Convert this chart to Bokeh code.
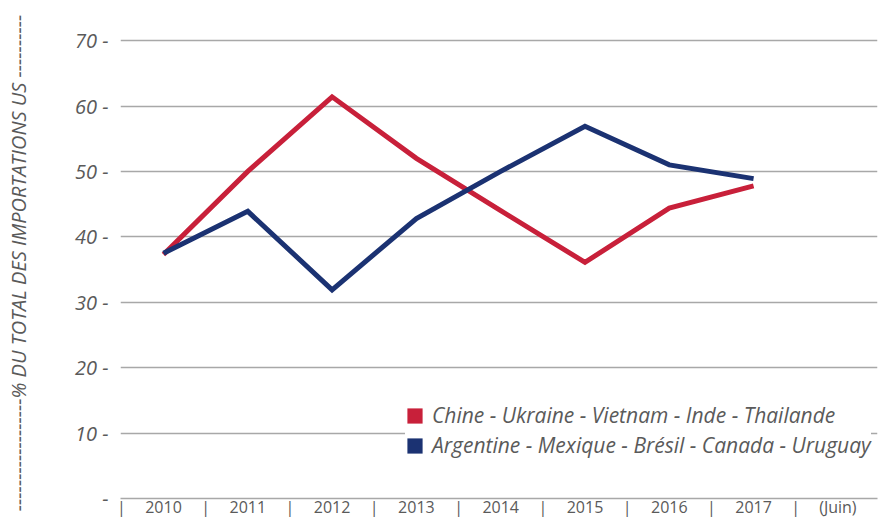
from bokeh.plotting import figure
from bokeh.models import FixedTicker, Legend, LegendItem, Range1d, ColumnDataSource
from bokeh.embed import file_html
from bokeh.resources import INLINE

years = ["2010", "2011", "2012", "2013", "2014", "2015", "2016", "2017"]
x_labels = years + ["(Juin)"]
asia = [37.3, 50.0, 61.4, 52.0, 44.0, 36.1, 44.4, 47.8]
americas = [37.5, 43.9, 31.9, 42.8, 50.0, 56.9, 51.0, 48.9]
y_ticks = [0, 10, 20, 30, 40, 50, 60, 70]
asia_label = "Chine - Ukraine - Vietnam - Inde - Thailande"
americas_label = "Argentine - Mexique - Brésil - Canada - Uruguay"
y_title = "% DU TOTAL DES IMPORTATIONS US"

RED = "#C8203A"
BLUE = "#1B3272"
GRID = "#A8A8A8"
TEXT = "#5A5A5A"
FONT = "Open Sans"

x_pos = list(range(len(years)))
centers = list(range(len(x_labels)))
bounds = [c - 0.5 for c in centers]

p = figure(width=882, height=520, output_backend="svg", toolbar_location=None,
           x_range=Range1d(-0.51, 8.47), y_range=Range1d(0, 72),
           min_border_left=120, min_border_right=5, min_border_top=27,
           min_border_bottom=19, background_fill_color="white",
           border_fill_color="white")
p.outline_line_color = None

src_a = ColumnDataSource(dict(x=x_pos, y=asia))
src_b = ColumnDataSource(dict(x=x_pos, y=americas))
p.line("x", "y", source=src_a, line_color=RED, line_width=5, line_join="miter")
p.line("x", "y", source=src_b, line_color=BLUE, line_width=5, line_join="miter")

# legend swatches: zero-size rects, only their legend entry is visible
sw_a = p.rect(x=x_pos[:1], y=asia[:1], width=0, height=0,
              fill_color=RED, line_color=None)
sw_b = p.rect(x=x_pos[:1], y=americas[:1], width=0, height=0,
              fill_color=BLUE, line_color=None)

# x axis
xa = p.xaxis[0]
xa.ticker = FixedTicker(ticks=sorted(centers + bounds), minor_ticks=[])
ov = {float(c): lab for c, lab in zip(centers, x_labels)}
ov.update({float(b): "|" for b in bounds})
xa.major_label_overrides = ov
xa.major_tick_line_color = None
xa.minor_tick_line_color = None
xa.major_tick_out = 0
xa.major_label_standoff = -3
xa.axis_line_color = GRID
xa.axis_line_width = 1.5
xa.major_label_text_font = FONT
xa.major_label_text_font_size = "16px"
xa.major_label_text_color = TEXT

# y axis
ya = p.yaxis[0]
ya.ticker = FixedTicker(ticks=y_ticks, minor_ticks=[])
ya.major_label_overrides = {float(v): (f"{v} -" if v else "-") for v in y_ticks}
ya.axis_line_color = None
ya.major_tick_line_color = None
ya.minor_tick_line_color = None
ya.major_tick_out = 0
ya.major_label_standoff = 12
ya.major_label_text_font = FONT
ya.major_label_text_font_style = "italic"
ya.major_label_text_font_size = "20px"
ya.major_label_text_color = TEXT
ya.axis_label = "-" * 18 + y_title + " " + "-" * 10
ya.axis_label_text_font = FONT
ya.axis_label_text_font_style = "italic"
ya.axis_label_text_font_size = "20px"
ya.axis_label_text_color = TEXT
ya.axis_label_standoff = 40

p.xgrid.grid_line_color = None
p.ygrid.grid_line_color = GRID
p.ygrid.grid_line_width = 1.5

legend = Legend(items=[LegendItem(label=asia_label, renderers=[sw_a]),
                       LegendItem(label=americas_label, renderers=[sw_b])],
                location=(285, 39), orientation="vertical",
                glyph_width=19, glyph_height=19, label_standoff=8,
                spacing=2, padding=14, margin=0,
                label_text_font=FONT, label_text_font_style="italic",
                label_text_font_size="21px", label_text_color=TEXT,
                border_line_color=None, background_fill_color="white",
                background_fill_alpha=1.0)
p.add_layout(legend, "center")

open("out.html", "w").write(file_html(p, INLINE))
